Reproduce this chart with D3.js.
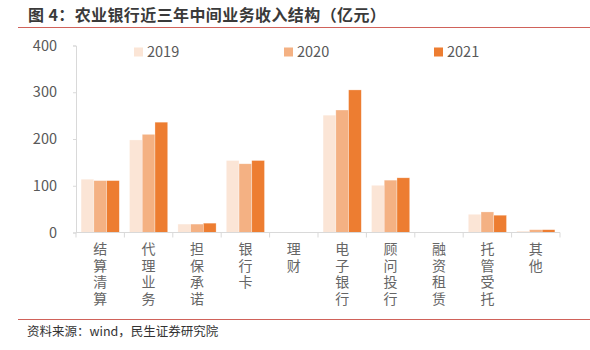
<!DOCTYPE html>
<html lang="zh-CN">
<head>
<meta charset="utf-8">
<script src="https://cdn.jsdelivr.net/npm/d3@7"></script>
<style>
  body { margin: 0; background: #fff; }
  svg { font-family: "Noto Sans CJK SC", "Noto Sans", sans-serif; }
</style>
</head>
<body>
<div id="chart"></div>
<script>
// chart data
const categories = ["结算清算", "代理业务", "担保承诺", "银行卡", "理财", "电子银行", "顾问投行", "融资租赁", "托管受托", "其他"];
const years = ["2019", "2020", "2021"];
const v2019 = [114, 198, 18, 154, 0, 251, 101, 0, 39, 3];
const v2020 = [111, 210, 18, 147, 0, 262, 112, 0, 44, 6];
const v2021 = [111, 236, 20, 154, 0, 305, 117, 0, 37, 6];
const yTicks = [0, 100, 200, 300, 400];
const colors = ["#fbe5d6", "#f4b183", "#ed7d31"];

const seriesValues = [v2019, v2020, v2021];

const width = 590, height = 350;
const margin = {top: 45.5, right: 30, bottom: 117.5, left: 76};

const svg = d3.select("#chart").append("svg")
    .attr("width", width)
    .attr("height", height);

// title + rules
svg.append("text")
    .attr("x", 28).attr("y", 21)
    .attr("font-size", 16).attr("font-weight", "bold")
    .attr("fill", "#3a3a3a")
    .attr("letter-spacing", 0.4)
    .text("图 4：农业银行近三年中间业务收入结构（亿元）");

svg.append("line")
    .attr("x1", 18).attr("x2", 590).attr("y1", 27.5).attr("y2", 27.5)
    .attr("stroke", "#d0625a").attr("stroke-width", 1);

svg.append("line")
    .attr("x1", 18).attr("x2", 590).attr("y1", 319.5).attr("y2", 319.5)
    .attr("stroke", "#d0625a").attr("stroke-width", 1);

svg.append("text")
    .attr("x", 27).attr("y", 336)
    .attr("font-size", 12.5).attr("fill", "#333")
    .text("资料来源：wind，民生证券研究院");

// scales
const x = d3.scaleBand()
    .domain(categories)
    .range([margin.left, 560])
    .padding(0);

const xSub = d3.scaleBand()
    .domain(years)
    .range([0, x.bandwidth()])
    .paddingInner(0)
    .paddingOuter(0.4);

const y = d3.scaleLinear()
    .domain([0, 400])
    .range([height - margin.bottom, margin.top]);

// y axis
const yAxis = svg.append("g")
    .attr("transform", `translate(${margin.left},0)`)
    .call(d3.axisLeft(y).tickValues(yTicks).tickSize(3).tickPadding(16));
yAxis.select(".domain").attr("stroke", "#d9d9d9");
yAxis.selectAll(".tick line").attr("stroke", "#d9d9d9");
yAxis.selectAll(".tick text")
    .attr("font-size", 14.5).attr("fill", "#595959")
    .attr("font-family", "'Noto Sans CJK SC', sans-serif");

// bars
const groups = svg.append("g").selectAll("g")
    .data(categories)
    .join("g")
    .attr("transform", d => `translate(${x(d)},0)`);

groups.selectAll("rect")
    .data((d, i) => years.map((yr, j) => ({year: yr, value: seriesValues[j][i], idx: j})))
    .join("rect")
    .attr("x", d => xSub(d.year))
    .attr("width", xSub.bandwidth())
    .attr("y", d => y(d.value))
    .attr("height", d => y(0) - y(d.value))
    .attr("fill", d => colors[d.idx])
    .attr("stroke", "#ffffff")
    .attr("stroke-opacity", 0.5)
    .attr("stroke-width", 0.6);

// x axis
const xAxisG = svg.append("g")
    .attr("transform", `translate(0,${y(0)})`);
xAxisG.append("line")
    .attr("x1", margin.left).attr("x2", 560)
    .attr("stroke", "#d9d9d9");
const boundaries = categories.map(c => x(c)).concat([x(categories[categories.length - 1]) + x.bandwidth()]);
xAxisG.selectAll(".xt")
    .data(boundaries)
    .join("line")
    .attr("class", "xt")
    .attr("x1", d => d).attr("x2", d => d)
    .attr("y1", 0).attr("y2", 5)
    .attr("stroke", "#d9d9d9");

// vertical category labels
svg.append("g").selectAll("text")
    .data(categories)
    .join("text")
    .attr("font-size", 14)
    .attr("fill", "#666")
    .attr("x", d => x(d) + x.bandwidth() / 2)
    .attr("y", 242)
    .style("writing-mode", "vertical-rl")
    .style("text-orientation", "upright")
    .attr("letter-spacing", 2.5)
    .text(d => d);

// legend
const legendX = [134, 284, 434];
const legend = svg.append("g").selectAll("g")
    .data(years)
    .join("g")
    .attr("transform", (d, i) => `translate(${legendX[i]},47.5)`);
legend.append("rect")
    .attr("width", 9).attr("height", 9)
    .attr("fill", (d, i) => colors[i]);
legend.append("text")
    .attr("x", 13).attr("y", 9.5)
    .attr("font-size", 14.5).attr("fill", "#595959")
    .text(d => d);
</script>
</body>
</html>
